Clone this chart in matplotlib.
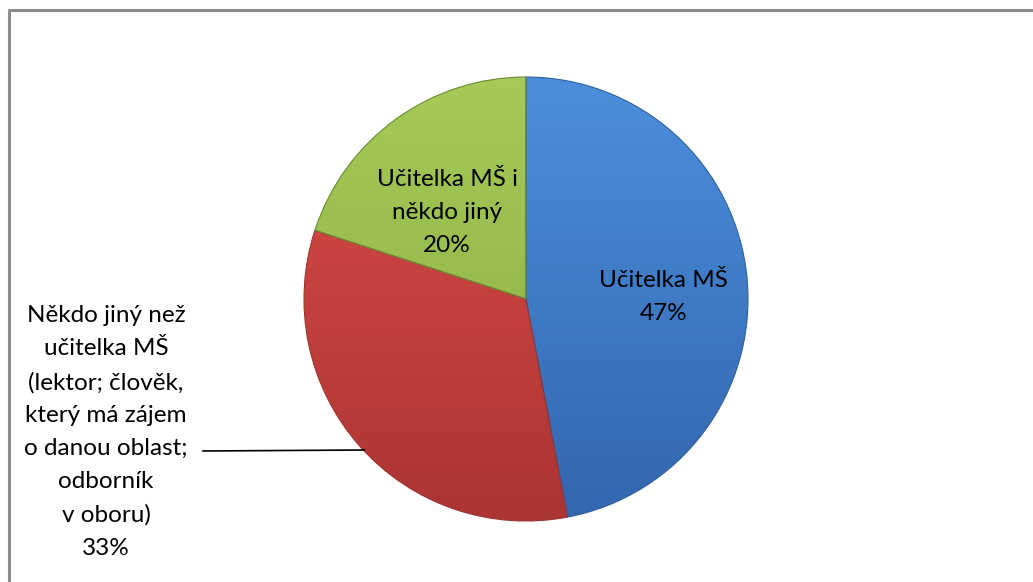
import matplotlib
matplotlib.use("Agg")
import matplotlib.pyplot as plt
import numpy as np
from matplotlib.colors import LinearSegmentedColormap

plt.rcParams['font.family'] = ['Lato', 'DejaVu Sans']

# data
categories = ["Učitelka MŠ", "Někdo jiný než\nučitelka MŠ\n(lektor; člověk,\nkterý má zájem\no danou oblast;\nodborník\nv oboru)", "Učitelka MŠ i\nněkdo jiný"]
shares = [47, 33, 20]
top_colors = ["#4b8fdc", "#dc4c47", "#a6ca57"]
bottom_colors = ["#3366ae", "#ab3533", "#87ab43"]
edge_colors = ["#2f5f9e", "#9c3230", "#6b8a35"]

W, H = 1033, 582
fig = plt.figure(figsize=(W / 100, H / 100), dpi=100)

# pie axes: centre ~ (526, 299) px, radius ~222 px
cx, cy, r = 526, 299, 222
ax = fig.add_axes([(cx - r) / W, (H - cy - r) / H, 2 * r / W, 2 * r / H])
wedges, _ = ax.pie(shares, colors=top_colors, startangle=90, counterclock=False,
                   radius=1, wedgeprops=dict(linewidth=0.8))
ax.set_xlim(-1, 1)
ax.set_ylim(-1, 1)
ax.set_aspect("equal")
ax.axis("off")

# vertical shading per slice
grad = np.linspace(1, 0, 256).reshape(-1, 1)
for w, c_top, c_bot, c_edge in zip(wedges, top_colors, bottom_colors, edge_colors):
    cmap = LinearSegmentedColormap.from_list("g", [c_bot, c_top])
    im = ax.imshow(grad, cmap=cmap, extent=(-1, 1, -1, 1), origin="upper",
                   aspect="auto", zorder=1)
    im.set_clip_path(w)
    w.set_edgecolor(c_edge)
    w.set_facecolor("none")
    w.set_zorder(2)

fs = 17.5
ls = 1.7

# inside labels
ax.text(0.62, 0.01, f"{categories[0]}\n{shares[0]}%", ha="center", va="center",
        fontsize=fs, linespacing=ls, zorder=10)
ax.text(-0.355, 0.39, f"{categories[2]}\n{shares[2]}%", ha="center", va="center",
        fontsize=fs, linespacing=ls, zorder=10)

# outside label with leader line
fig.text(106 / W, 1 - 432 / H, f"{categories[1]}\n{shares[1]}%", ha="center", va="center",
         fontsize=fs, linespacing=ls)
fig.add_artist(plt.Line2D([203 / W, 364 / W], [1 - 451 / H, 1 - 450 / H], color="black", lw=1.2))

# chart frame (cut off at right/bottom)
fig.add_artist(plt.Line2D([9 / W, 9 / W, 1.0], [0.0, 1 - 10 / H, 1 - 10 / H],
                          color="#8c8c8c", lw=2.2))

fig.savefig("out.png", dpi=100, facecolor="white")
